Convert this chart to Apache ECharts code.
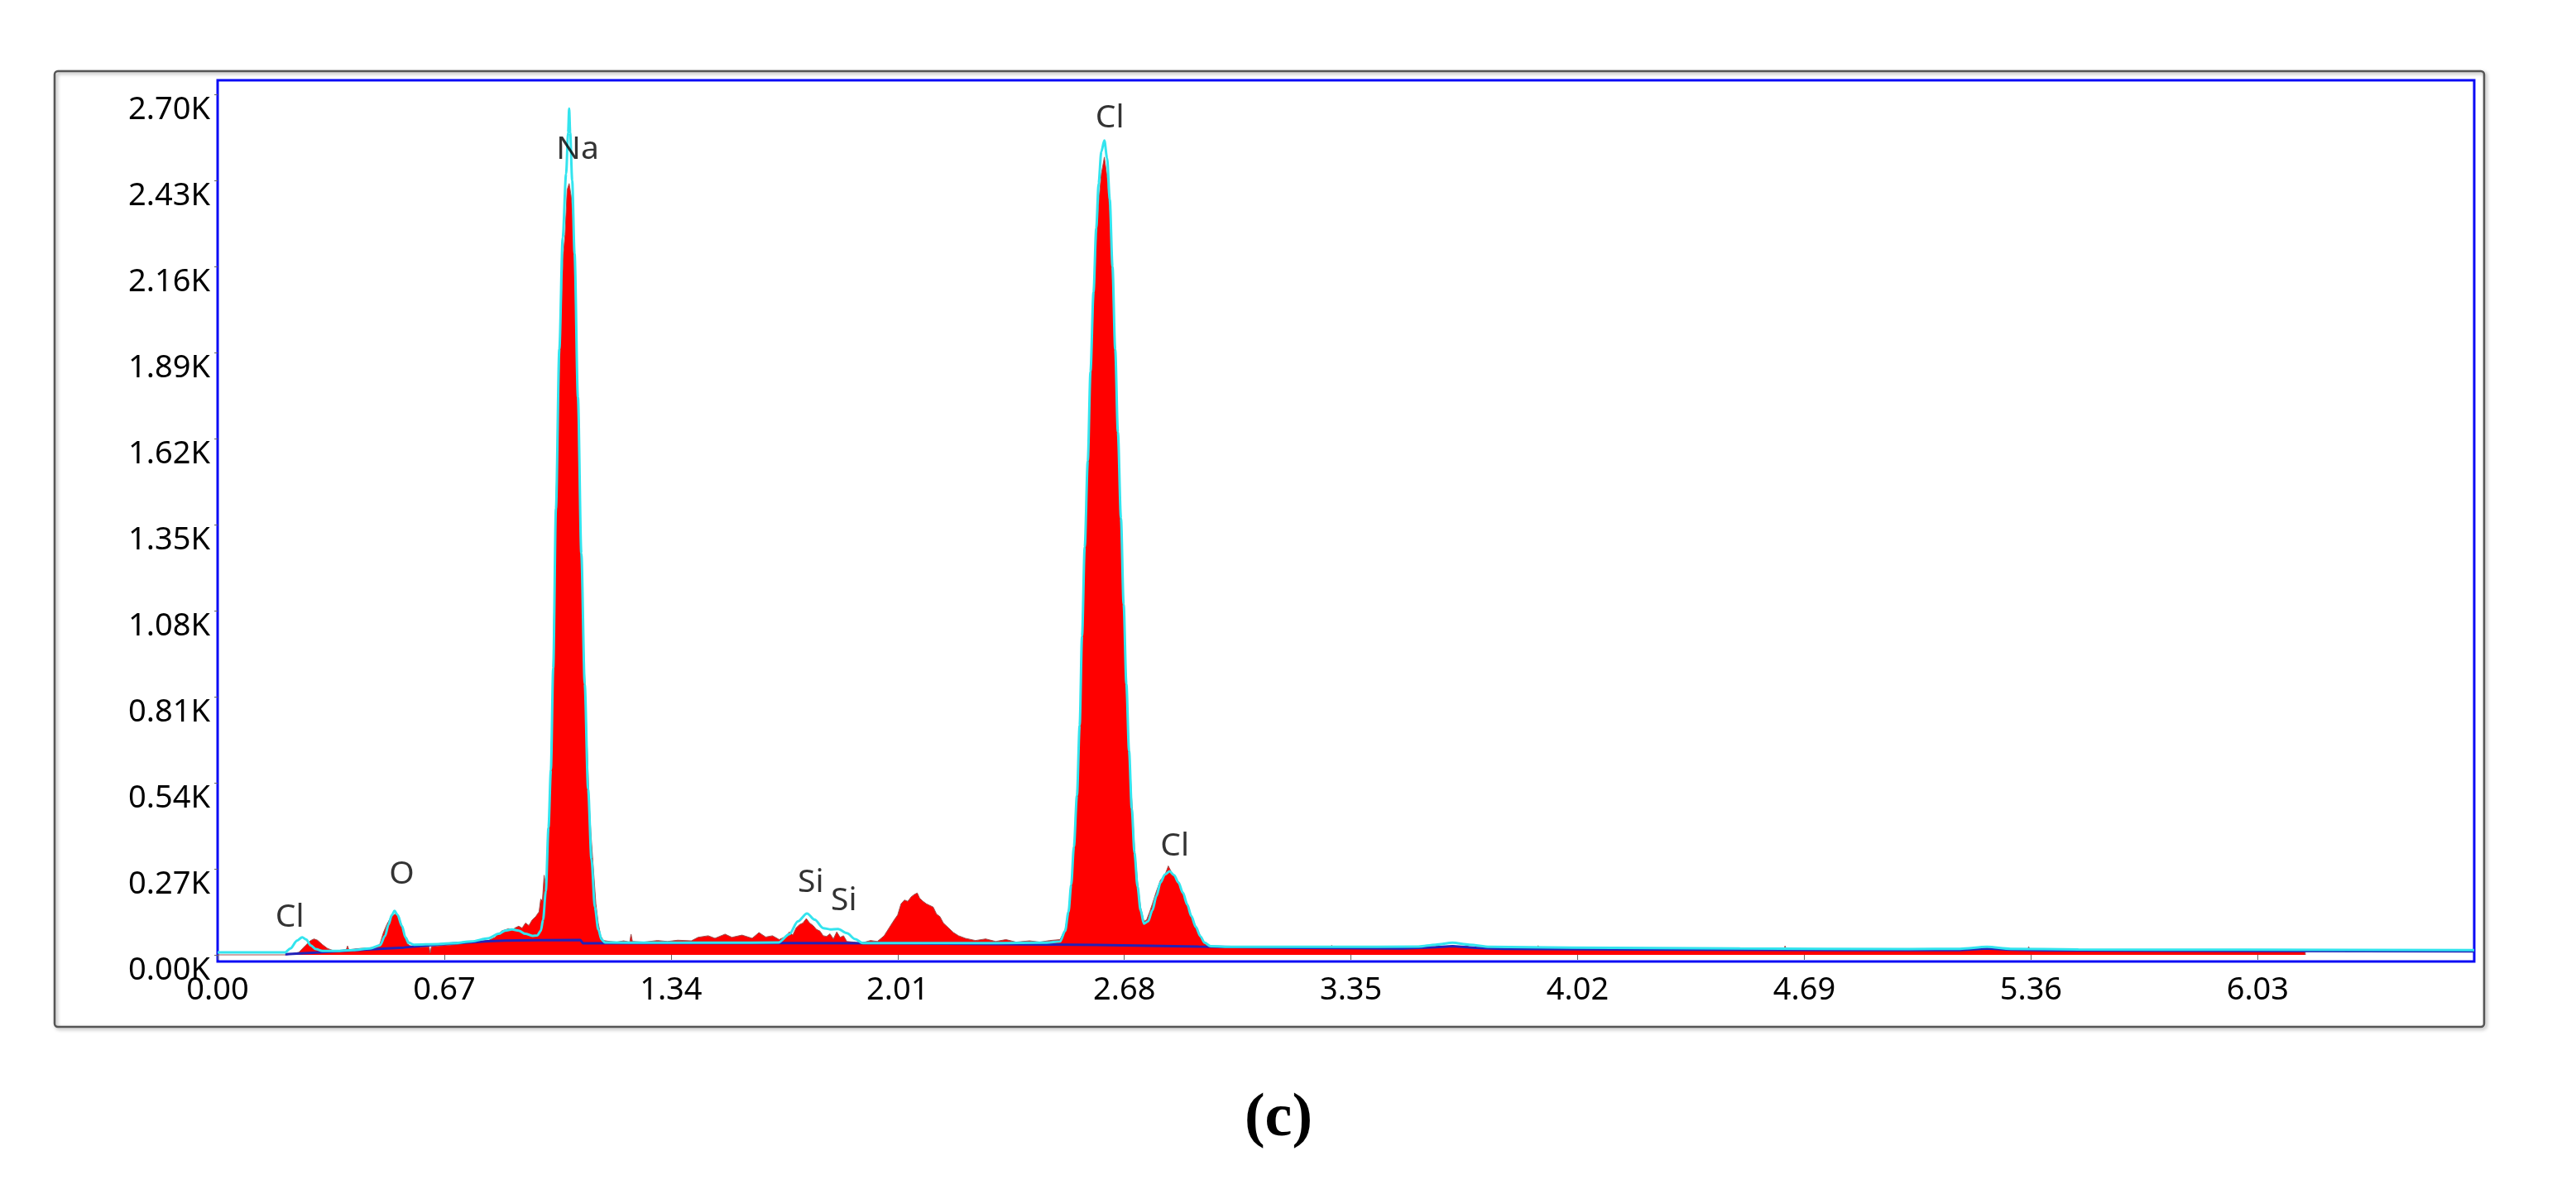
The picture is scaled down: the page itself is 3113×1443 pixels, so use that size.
<!DOCTYPE html>
<html>
<head>
<meta charset="utf-8">
<script src="https://cdn.jsdelivr.net/npm/echarts@6.0.0/dist/echarts.min.js"></script>
<style>
  html, body { margin: 0; padding: 0; background: #fff; }
  #chart { width: 3113px; height: 1443px; }
</style>
</head>
<body>
<div id="chart"></div>
<script>
// energy (keV), counts
const spectrumPts = [
  [0, 0], [0.205, 0], [0.240, 8], [0.260, 30], [0.275, 45], [0.285, 50], [0.295, 46], [0.310, 32],
  [0.325, 20], [0.340, 14], [0.360, 13], [0.380, 16], [0.384, 28], [0.388, 16], [0.420, 20], [0.450, 22],
  [0.470, 25], [0.480, 35], [0.490, 70], [0.500, 95], [0.510, 115], [0.520, 125], [0.528, 130], [0.535, 120],
  [0.545, 90], [0.552, 60], [0.560, 35], [0.570, 28], [0.600, 24], [0.625, 25], [0.628, 6], [0.632, 26],
  [0.650, 28], [0.700, 32], [0.750, 38], [0.800, 45], [0.820, 55], [0.840, 75], [0.860, 82], [0.870, 78],
  [0.880, 85], [0.890, 90], [0.900, 84], [0.910, 100], [0.920, 92], [0.930, 110], [0.940, 120], [0.950, 135],
  [0.955, 175], [0.960, 170], [0.965, 250], [0.970, 215], [0.975, 300],
  [0.980, 440], [0.985, 600], [0.990, 820], [0.995, 1120], [1.000, 1420], [1.007, 1700], [1.015, 2010],
  [1.022, 2200], [1.027, 2260], [1.033, 2400], [1.039, 2420], [1.045, 2380], [1.051, 2300], [1.056, 2100],
  [1.061, 1910], [1.068, 1520], [1.075, 1250], [1.081, 1000], [1.090, 720], [1.098, 480], [1.104, 370],
  [1.110, 280], [1.118, 160], [1.125, 100], [1.132, 60], [1.140, 45],
  [1.16, 42], [1.18, 40], [1.20, 44], [1.218, 40], [1.222, 65], [1.226, 42], [1.26, 40], [1.30, 45],
  [1.33, 42], [1.36, 46], [1.40, 44], [1.42, 55], [1.45, 60], [1.47, 52], [1.50, 65], [1.52, 55],
  [1.55, 62], [1.58, 52], [1.60, 70], [1.62, 56], [1.64, 60],
  [1.66, 48], [1.68, 58], [1.69, 72], [1.70, 62], [1.71, 85], [1.72, 95], [1.73, 100], [1.74, 114],
  [1.75, 100], [1.76, 92], [1.77, 80], [1.78, 75], [1.79, 60], [1.80, 58], [1.81, 66], [1.82, 50],
  [1.83, 72], [1.84, 55], [1.85, 60], [1.86, 42], [1.88, 40], [1.90, 36], [1.93, 45], [1.95, 42],
  [1.97, 60], [1.985, 85], [2.000, 110], [2.010, 125], [2.020, 160], [2.030, 172], [2.040, 168], [2.050, 182],
  [2.060, 190], [2.068, 194], [2.075, 178], [2.085, 168], [2.095, 160], [2.105, 155], [2.115, 150], [2.125, 128],
  [2.135, 120], [2.145, 100], [2.160, 85], [2.175, 70], [2.190, 60], [2.21, 52], [2.24, 45], [2.27, 50],
  [2.30, 42], [2.33, 48], [2.36, 40], [2.40, 44], [2.43, 40], [2.46, 45], [2.49, 48],
  [2.505, 80], [2.515, 140], [2.523, 220], [2.531, 330], [2.540, 485], [2.548, 700], [2.555, 1005], [2.563, 1260],
  [2.572, 1524], [2.580, 1800], [2.589, 2043], [2.597, 2230], [2.604, 2355], [2.612, 2450], [2.621, 2503],
  [2.629, 2440], [2.637, 2329], [2.645, 2120], [2.653, 1872], [2.661, 1620], [2.670, 1353], [2.678, 1090],
  [2.686, 833], [2.694, 650], [2.702, 485], [2.710, 340], [2.719, 230], [2.728, 150], [2.738, 105],
  [2.746, 110], [2.755, 135], [2.763, 160], [2.775, 200], [2.787, 235], [2.800, 250], [2.810, 279], [2.818, 262],
  [2.826, 250], [2.840, 228], [2.853, 195], [2.866, 160], [2.878, 122], [2.891, 90], [2.905, 60], [2.917, 38],
  [2.930, 28], [2.95, 24],
  [3.10, 22], [3.29, 21], [3.293, 30], [3.297, 21], [3.50, 21], [3.60, 26], [3.65, 28], [3.69, 25],
  [3.693, 36], [3.697, 24], [3.80, 20], [3.90, 19], [3.903, 29], [3.907, 19], [4.20, 18], [4.50, 17],
  [4.63, 17], [4.633, 28], [4.637, 17], [4.80, 16], [5.00, 15], [5.20, 16], [5.25, 17], [5.35, 15],
  [5.353, 26], [5.357, 15], [5.60, 14], [5.90, 13], [6.17, 12], [6.171, 0]
];

const fitPts = [
  [0, 8], [0.200, 8], [0.215, 20], [0.235, 45], [0.250, 55], [0.262, 48], [0.275, 30], [0.290, 18],
  [0.310, 12], [0.350, 12], [0.400, 15], [0.450, 20], [0.480, 30], [0.495, 60], [0.505, 95], [0.515, 125],
  [0.523, 138], [0.532, 125], [0.545, 90], [0.555, 55], [0.565, 38], [0.580, 32], [0.650, 34], [0.700, 37],
  [0.750, 42], [0.800, 52], [0.830, 66], [0.850, 76], [0.870, 80], [0.890, 76], [0.910, 66], [0.930, 60],
  [0.945, 61], [0.955, 75], [0.962, 110], [0.970, 200], [0.978, 400], [0.985, 580], [0.992, 900], [1.000, 1400],
  [1.010, 1900], [1.020, 2250], [1.030, 2450], [1.036, 2580], [1.039, 2655], [1.042, 2580], [1.048, 2430],
  [1.055, 2200], [1.065, 1750], [1.075, 1260], [1.085, 850], [1.095, 520], [1.105, 300], [1.115, 150],
  [1.125, 80], [1.135, 48], [1.145, 39], [1.30, 38], [1.50, 38], [1.658, 39], [1.690, 65], [1.715, 105],
  [1.742, 130], [1.765, 110], [1.790, 84], [1.810, 80], [1.834, 81], [1.860, 68], [1.885, 49], [1.907, 37],
  [2.10, 37], [2.30, 37], [2.45, 38], [2.490, 42], [2.505, 75], [2.515, 135], [2.523, 220], [2.531, 340],
  [2.540, 500], [2.548, 720], [2.555, 1000], [2.563, 1280], [2.572, 1550], [2.580, 1830], [2.589, 2080],
  [2.597, 2280], [2.604, 2420], [2.612, 2520], [2.621, 2555], [2.629, 2500], [2.637, 2370], [2.645, 2160],
  [2.653, 1900], [2.661, 1640], [2.670, 1370], [2.678, 1100], [2.686, 850], [2.694, 640], [2.702, 460],
  [2.710, 320], [2.719, 215], [2.728, 140], [2.738, 98], [2.750, 105], [2.763, 140], [2.775, 185],
  [2.787, 227], [2.800, 252], [2.814, 262], [2.827, 250], [2.840, 227], [2.853, 195], [2.866, 158],
  [2.878, 122], [2.891, 88], [2.905, 58], [2.917, 38], [2.935, 27], [3.00, 25], [3.30, 25], [3.55, 26],
  [3.60, 32], [3.65, 38], [3.70, 32], [3.76, 25], [4.00, 23], [4.50, 20], [5.00, 18], [5.15, 19],
  [5.23, 25], [5.30, 19], [5.50, 17], [6.00, 16], [6.67, 15]
];

const backgroundPts = [
  [0.20, 2], [0.30, 8], [0.40, 14], [0.50, 20], [0.55, 23], [0.60, 28], [0.70, 36], [0.80, 43],
  [0.85, 45], [0.95, 46], [1.072, 47], [1.080, 36], [1.30, 37], [1.70, 37], [2.00, 36], [2.30, 34],
  [2.60, 31], [2.90, 26], [3.20, 22], [3.50, 20], [3.60, 24], [3.65, 27], [3.72, 22], [3.80, 19],
  [4.20, 17], [4.80, 15], [5.15, 15], [5.23, 20], [5.30, 16], [5.40, 14], [6.00, 12], [6.67, 11]
];

const peakNames = ['Cl', 'O', 'Na', 'Si', 'Si', 'Cl', 'Cl'];
const peakKeV = [0.213, 0.544, 1.064, 1.753, 1.851, 2.637, 2.829];
const peakCounts = [117, 252, 2526, 226, 169, 2625, 340];

const xTicks = [0, 0.67, 1.34, 2.01, 2.68, 3.35, 4.02, 4.69, 5.36, 6.03];
const yTicks = [0, 270, 540, 810, 1080, 1350, 1620, 1890, 2160, 2430, 2700];

const labelFont = 'Noto Sans';

const option = {
  animation: false,
  backgroundColor: '#fff',
  grid: {
    left: 263,
    right: 123,
    top: 97,
    bottom: 281,
    show: true,
    borderColor: '#0a0af5',
    borderWidth: 3,
    backgroundColor: 'transparent'
  },
  xAxis: {
    type: 'value',
    min: 0,
    max: 6.67,
    axisLine: { show: false },
    splitLine: { show: false },
    axisTick: {
      show: true,
      customValues: xTicks,
      length: 6,
      lineStyle: { color: '#666', width: 1 }
    },
    axisLabel: {
      customValues: xTicks,
      margin: 16,
      fontSize: 38,
      fontFamily: labelFont,
      color: '#000',
      formatter: (v) => v.toFixed(2)
    }
  },
  yAxis: {
    type: 'value',
    min: -20.8,
    max: 2744,
    axisLine: { show: false },
    splitLine: { show: false },
    axisTick: {
      show: true,
      customValues: yTicks,
      length: 4,
      lineStyle: { color: '#666', width: 1 }
    },
    axisLabel: {
      customValues: yTicks,
      margin: 9,
      fontSize: 38,
      fontFamily: labelFont,
      color: '#000',
      verticalAlign: 'top',
      formatter: (v) => (v / 1000).toFixed(2) + 'K'
    }
  },
  series: [
    {
      name: 'spectrum',
      type: 'line',
      data: spectrumPts,
      showSymbol: false,
      symbol: 'none',
      lineStyle: { color: '#a05050', width: 1 },
      areaStyle: { color: '#ff0000', opacity: 1 },
      z: 2
    },
    {
      name: 'background',
      type: 'line',
      data: backgroundPts,
      showSymbol: false,
      symbol: 'none',
      lineStyle: { color: '#2222b8', width: 3 },
      z: 3
    },
    {
      name: 'fit',
      type: 'line',
      data: fitPts,
      showSymbol: false,
      symbol: 'none',
      smooth: 0.3,
      smoothMonotone: 'x',
      lineStyle: { color: '#33e4ee', width: 3 },
      z: 4
    },
    {
      name: 'peaks',
      type: 'scatter',
      symbolSize: 1,
      itemStyle: { color: 'rgba(0,0,0,0)' },
      data: peakNames.map((n, i) => ({ name: n, value: [peakKeV[i], peakCounts[i]] })),
      label: {
        show: true,
        position: 'inside',
        formatter: (p) => p.name,
        fontSize: 39,
        fontFamily: labelFont,
        color: '#000'
      },
      z: 5
    }
  ],
  graphic: [
    {
      type: 'rect',
      shape: { x: 66, y: 86, width: 2936, height: 1155, r: 4 },
      style: {
        fill: 'none',
        stroke: '#555',
        lineWidth: 2.5,
        shadowBlur: 4,
        shadowOffsetX: 2,
        shadowOffsetY: 2,
        shadowColor: 'rgba(0,0,0,0.35)'
      },
      z: -1
    },
    {
      type: 'text',
      x: 1545,
      y: 1353,
      style: {
        text: '(c)',
        font: 'bold 74px "Liberation Serif"',
        fill: '#000',
        textAlign: 'center',
        textVerticalAlign: 'middle'
      }
    }
  ]
};

const chart = echarts.init(document.getElementById('chart'));
chart.setOption(option);
</script>
</body>
</html>
